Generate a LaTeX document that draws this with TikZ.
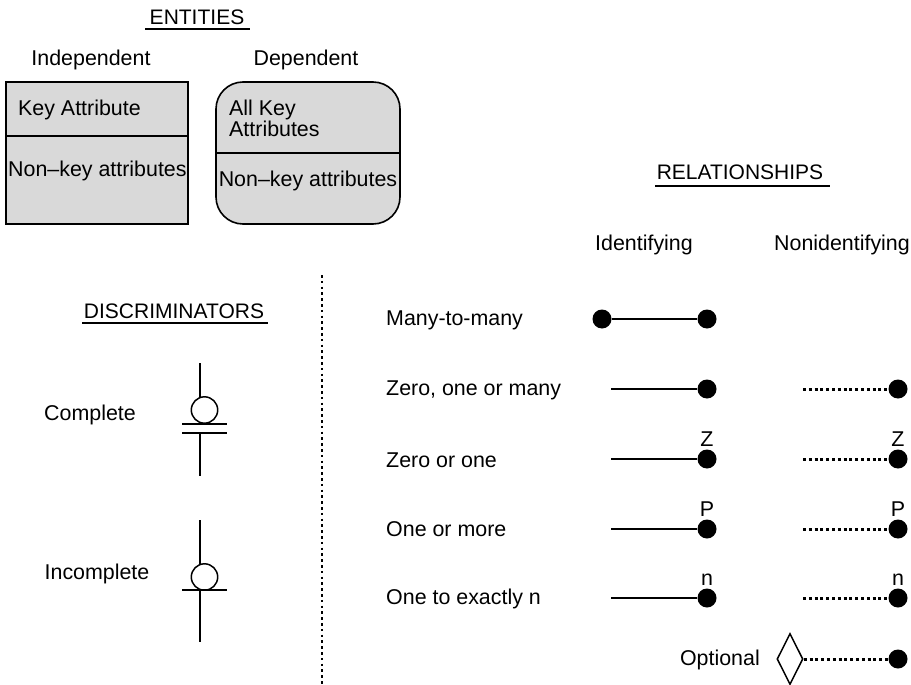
\documentclass[tikz,border=0pt]{standalone}
\usepackage{fontspec}
\setmainfont{Liberation Sans}
\usetikzlibrary{shapes.geometric}
\begin{document}
\begin{tikzpicture}[x=1pt,y=-1pt,
  txt/.style={inner sep=0pt, font=\fontsize{21.4}{24}\selectfont},
  ltxt/.style={txt, anchor=west},
  title/.style={inner sep=0pt, font=\fontsize{21}{24}\selectfont},
  uline/.style={line width=2.2pt},
  box/.style={draw, line width=1.6pt, fill=boxgray},
  dot/.style={circle, fill=black, inner sep=0pt, minimum size=19pt},
  solidrel/.style={line width=2.5pt},
  dotrel/.style={line width=3pt, dash pattern=on 3pt off 2.8pt},
  disc/.style={line width=1.5pt},
  tag/.style={txt, anchor=south}]
\definecolor{boxgray}{HTML}{D9D9D9}
\useasboundingbox (0,0) rectangle (911,685);

% ---------- Entities ----------
\node[title] (entT) at (197,17) {ENTITIES};
\draw[uline] (145,29) -- (250,29);
\node[txt] (indT) at (91,60) {Independent};
\node[txt] (depT) at (306,60) {Dependent};

\draw[box] (6,82) rectangle (188,224);
\draw[line width=1.5pt] (6,136) -- (188,136);
\node[ltxt] (ka) at (18,110) {Key Attribute};
\node[ltxt] (nk1) at (8,171) {Non--key attributes};

\draw[box, rounded corners=27pt] (216,82) rectangle (400,224);
\draw[line width=1.5pt] (216,153) -- (400,153);
\node[ltxt, align=left, anchor=north west] (aka) at (229,100)
  {All Key\\[-3pt]Attributes};
\node[txt] (nk2) at (308,181) {Non--key attributes};

% ---------- Relationships heading ----------
\node[title] (relT) at (740,172) {RELATIONSHIPS};
\draw[uline] (655,186) -- (830,186);
\node[txt] (idT) at (644,245) {Identifying};
\node[txt] (nidT) at (842,245) {Nonidentifying};

% ---------- Separator ----------
\draw[line width=2.6pt, dash pattern=on 2.6pt off 3.2pt] (322,275) -- (322,685);

% ---------- Discriminators ----------
\node[title] (discT) at (174,311) {DISCRIMINATORS};
\draw[uline] (82,323) -- (268,323);

\node[txt] (cmp) at (90,415) {Complete};
\draw[disc] (200,363) -- (200,397);
\draw[disc] (204.5,410) circle (13.2pt);
\draw[disc] (182,424) -- (227,424);
\draw[disc] (182,433) -- (227,433);
\draw[disc] (200,433) -- (200,476);

\node[txt] (inc) at (97,574) {Incomplete};
\draw[disc] (200,520) -- (200,564);
\draw[disc] (204.5,577) circle (13.2pt);
\draw[disc] (182,590) -- (227,590);
\draw[disc] (200,590) -- (200,642);

% ---------- Relationship rows ----------
\node[ltxt] (r1) at (386,320) {Many-to-many};
\node[ltxt] (r2) at (386,390) {Zero, one or many};
\node[ltxt] (r3) at (386,460) {Zero or one};
\node[ltxt] (r4) at (386,529) {One or more};
\node[ltxt] (r5) at (386,599) {One to exactly n};

% many-to-many
\node[dot] (m1a) at (602,319) {};
\node[dot] (m1b) at (707,319) {};
\draw[solidrel] (m1a) -- (m1b);

% zero, one or many
\coordinate (i2) at (611,389);
\node[dot] (i2d) at (707,389) {};
\draw[solidrel] (i2) -- (i2d);
\coordinate (n2) at (803,389);
\node[dot] (n2d) at (898,389) {};
\draw[dotrel] (n2) -- (n2d);

% zero or one
\coordinate (i3) at (611,459);
\node[dot] (i3d) at (707,459) {};
\draw[solidrel] (i3) -- (i3d);
\node[tag] (i3t) at (707,447) {Z};
\coordinate (n3) at (803,459);
\node[dot] (n3d) at (898,459) {};
\draw[dotrel] (n3) -- (n3d);
\node[tag] (n3t) at (898,447) {Z};

% one or more
\coordinate (i4) at (611,529);
\node[dot] (i4d) at (707,529) {};
\draw[solidrel] (i4) -- (i4d);
\node[tag] (i4t) at (707,517) {P};
\coordinate (n4) at (803,529);
\node[dot] (n4d) at (898,529) {};
\draw[dotrel] (n4) -- (n4d);
\node[tag] (n4t) at (898,517) {P};

% one to exactly n
\coordinate (i5) at (611,598);
\node[dot] (i5d) at (707,598) {};
\draw[solidrel] (i5) -- (i5d);
\node[tag] (i5t) at (707,586) {n};
\coordinate (n5) at (803,598);
\node[dot] (n5d) at (898,598) {};
\draw[dotrel] (n5) -- (n5d);
\node[tag] (n5t) at (898,586) {n};

% optional
\node[txt, anchor=east] (opt) at (760,660) {Optional};
\node[diamond, draw, line width=1.5pt, inner sep=0pt, minimum width=26pt,
      minimum height=51pt] (dia) at (790,659) {};
\node[dot] (n6d) at (898,659) {};
\draw[dotrel] (dia.east) -- (n6d);
\end{tikzpicture}
\end{document}
